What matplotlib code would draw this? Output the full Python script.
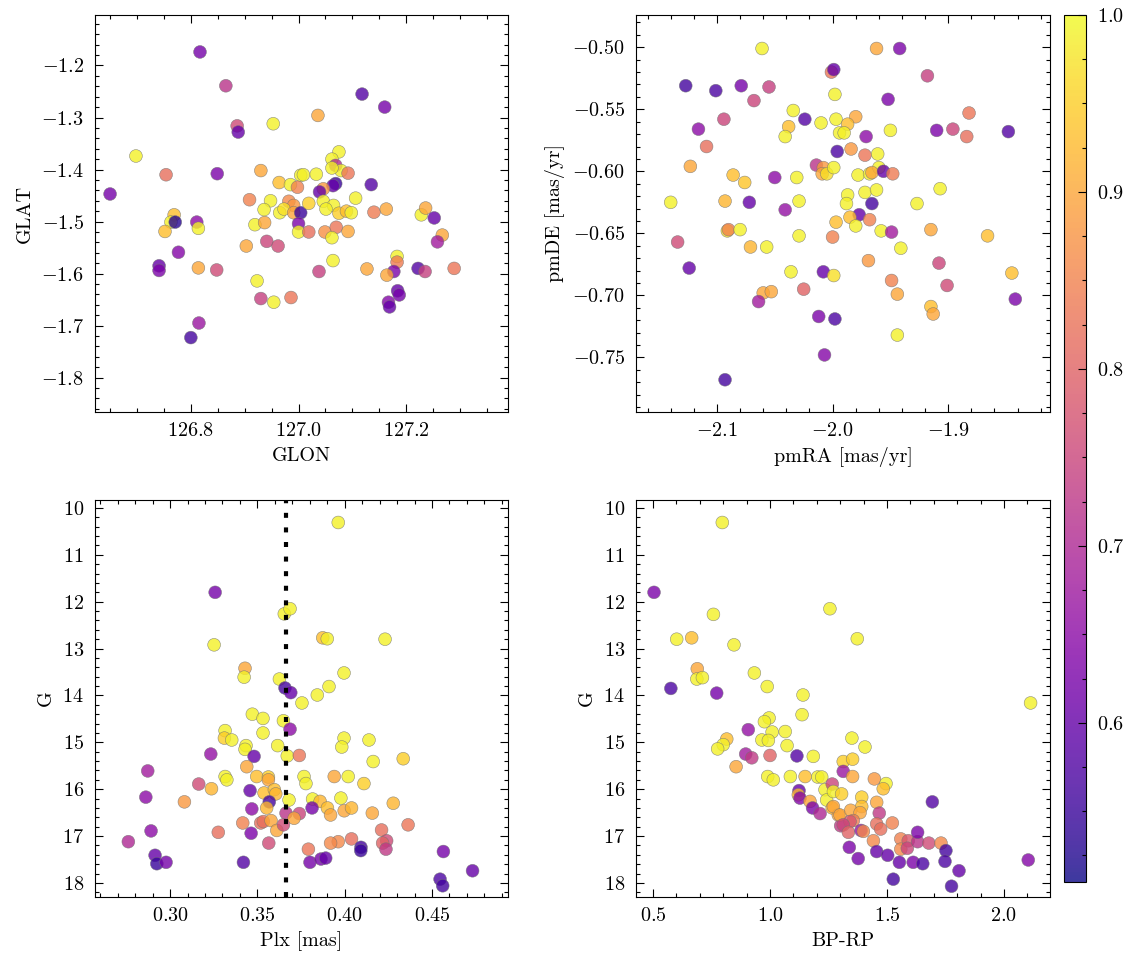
import numpy as np
import matplotlib
matplotlib.use("Agg")
import matplotlib.pyplot as plt
from matplotlib.ticker import FuncFormatter, MultipleLocator

# ---------------- data ----------------
# Panel 1: sky positions
sky_glon = [126.817, 126.865, 126.886, 126.888, 126.953, 126.698, 126.650, 126.754, 126.849, 126.930,
            126.769, 126.763, 126.771, 126.752, 126.811, 126.814, 126.777, 126.741, 126.741, 126.814,
            126.848, 126.815, 126.800, 126.909, 126.948, 126.936, 126.964, 126.985, 127.004, 126.998,
            126.965, 126.982, 126.991, 126.973, 126.991, 127.004, 127.000, 127.000, 126.919, 126.937,
            126.941, 126.962, 126.903, 126.923, 126.930, 126.954, 126.986, 127.118, 127.160, 127.036,
            127.075, 127.062, 127.069, 127.079, 127.062, 127.092, 127.033, 127.009, 127.135, 127.069,
            127.064, 127.046, 127.039, 127.019, 127.046, 127.065, 127.051, 127.075, 127.089, 127.098,
            127.106, 127.019, 127.049, 127.070, 127.062, 127.092, 127.140, 127.163, 127.064, 127.038,
            127.127, 127.183, 127.183, 127.177, 127.164, 127.184, 127.187, 127.167, 127.169, 127.228,
            127.236, 127.252, 127.267, 127.258, 127.222, 127.235, 127.289]
sky_glat = [-1.174, -1.239, -1.316, -1.328, -1.312, -1.374, -1.447, -1.410, -1.408, -1.402,
            -1.487, -1.501, -1.501, -1.519, -1.501, -1.513, -1.559, -1.585, -1.594, -1.589,
            -1.593, -1.695, -1.723, -1.458, -1.460, -1.477, -1.425, -1.429, -1.411, -1.434,
            -1.483, -1.461, -1.469, -1.476, -1.483, -1.483, -1.504, -1.520, -1.506, -1.502,
            -1.538, -1.547, -1.547, -1.614, -1.648, -1.655, -1.646, -1.255, -1.280, -1.296,
            -1.366, -1.380, -1.392, -1.402, -1.397, -1.407, -1.409, -1.410, -1.429, -1.427,
            -1.431, -1.437, -1.443, -1.465, -1.461, -1.469, -1.476, -1.484, -1.480, -1.483,
            -1.455, -1.520, -1.520, -1.511, -1.531, -1.519, -1.482, -1.476, -1.575, -1.596,
            -1.591, -1.567, -1.578, -1.596, -1.603, -1.633, -1.641, -1.655, -1.664, -1.487,
            -1.474, -1.493, -1.526, -1.539, -1.590, -1.596, -1.590]
sky_prob = [0.62, 0.72, 0.76, 0.60, 0.99, 0.99, 0.62, 0.82, 0.63, 0.90,
            0.93, 0.99, 0.53, 0.93, 0.65, 0.99, 0.64, 0.60, 0.63, 0.90,
            0.76, 0.67, 0.56, 0.85, 0.99, 0.99, 0.93, 0.99, 0.99, 0.85,
            0.99, 0.86, 0.88, 0.97, 0.90, 0.55, 0.63, 0.99, 0.99, 0.90,
            0.75, 0.76, 0.90, 0.99, 0.74, 0.99, 0.83, 0.58, 0.62, 0.90,
            0.99, 0.99, 0.70, 0.99, 0.99, 0.83, 0.99, 0.99, 0.58, 0.55,
            0.60, 0.88, 0.60, 0.95, 0.99, 0.99, 0.99, 0.95, 0.93, 0.99,
            0.99, 0.82, 0.87, 0.83, 0.99, 0.90, 0.84, 0.90, 0.99, 0.74,
            0.90, 0.99, 0.84, 0.63, 0.90, 0.60, 0.62, 0.64, 0.60, 0.99,
            0.90, 0.60, 0.90, 0.68, 0.58, 0.74, 0.83]

# Panel 2: proper motions
pm_ra = [-2.061, -2.127, -2.101, -2.079, -2.055, -2.068, -2.001, -1.999, -1.998, -2.034,
         -2.024, -2.010, -1.997, -2.038, -2.041, -2.094, -2.116, -2.109, -1.994, -1.996,
         -2.123, -2.086, -2.076, -2.050, -2.031, -2.014, -2.008, -2.009, -2.005, -1.999,
         -2.140, -2.093, -2.072, -2.029, -2.041, -1.997, -2.091, -2.090, -2.080, -2.134,
         -2.071, -2.057, -2.029, -2.000, -2.124, -2.036, -2.008, -1.999, -2.025, -2.060,
         -2.053, -2.064, -2.012, -1.998, -2.007, -2.093, -1.962, -1.942, -1.918, -1.952,
         -1.882, -1.980, -1.987, -1.990, -1.971, -1.950, -1.910, -1.896, -1.884, -1.848,
         -1.984, -1.972, -1.961, -1.978, -1.968, -1.960, -1.966, -1.956, -1.948, -1.907,
         -1.972, -1.962, -1.987, -1.988, -1.966, -1.927, -1.977, -1.985, -1.980, -1.968,
         -1.958, -1.949, -1.915, -1.866, -1.941, -1.969, -1.908, -1.949, -1.944, -1.901,
         -1.845, -1.842, -1.915, -1.913, -1.944]
pm_de = [-0.501, -0.531, -0.535, -0.531, -0.532, -0.543, -0.520, -0.518, -0.538, -0.551,
         -0.558, -0.561, -0.558, -0.564, -0.572, -0.558, -0.566, -0.580, -0.569, -0.584,
         -0.596, -0.603, -0.609, -0.605, -0.605, -0.595, -0.597, -0.602, -0.602, -0.597,
         -0.625, -0.624, -0.625, -0.624, -0.631, -0.641, -0.648, -0.647, -0.647, -0.657,
         -0.661, -0.661, -0.652, -0.653, -0.678, -0.681, -0.681, -0.684, -0.695, -0.698,
         -0.697, -0.705, -0.717, -0.719, -0.748, -0.768, -0.501, -0.501, -0.523, -0.542,
         -0.553, -0.556, -0.562, -0.569, -0.572, -0.567, -0.567, -0.566, -0.572, -0.568,
         -0.582, -0.587, -0.586, -0.603, -0.602, -0.597, -0.601, -0.600, -0.602, -0.614,
         -0.617, -0.615, -0.619, -0.626, -0.626, -0.626, -0.635, -0.637, -0.644, -0.639,
         -0.648, -0.649, -0.647, -0.652, -0.662, -0.672, -0.674, -0.688, -0.699, -0.692,
         -0.682, -0.703, -0.709, -0.715, -0.732]
pm_prob = [0.99, 0.56, 0.57, 0.62, 0.74, 0.75, 0.83, 0.60, 0.99, 0.99,
           0.58, 0.99, 0.99, 0.93, 0.99, 0.75, 0.65, 0.82, 0.99, 0.57,
           0.90, 0.93, 0.94, 0.65, 0.99, 0.72, 0.88, 0.90, 0.97, 0.99,
           0.99, 0.92, 0.60, 0.99, 0.66, 0.93, 0.97, 0.85, 0.99, 0.76,
           0.92, 0.99, 0.99, 0.85, 0.60, 0.99, 0.60, 0.97, 0.80, 0.90,
           0.90, 0.68, 0.63, 0.57, 0.64, 0.56, 0.90, 0.63, 0.74, 0.63,
           0.83, 0.90, 0.93, 0.99, 0.65, 0.99, 0.63, 0.75, 0.82, 0.58,
           0.88, 0.83, 0.99, 0.99, 0.99, 0.99, 0.90, 0.60, 0.84, 0.99,
           0.99, 0.99, 0.99, 0.99, 0.56, 0.99, 0.60, 0.93, 0.99, 0.85,
           0.99, 0.68, 0.90, 0.93, 0.99, 0.88, 0.75, 0.85, 0.90, 0.76,
           0.93, 0.63, 0.93, 0.90, 0.99]

# Panel 3: parallax vs G
plx = [0.3258, 0.3654, 0.3687, 0.3252, 0.3429, 0.3424, 0.3626, 0.3658, 0.3691, 0.3755,
       0.3471, 0.3532, 0.3649, 0.3687, 0.3532, 0.3315, 0.3311, 0.3353, 0.3435, 0.3429,
       0.3616, 0.3671, 0.3233, 0.3481, 0.3439, 0.2872, 0.3496, 0.3563, 0.3563, 0.3315,
       0.3325, 0.3740, 0.3164, 0.3237, 0.2861, 0.3082, 0.3458, 0.3538, 0.3597, 0.3605,
       0.3568, 0.3681, 0.3553, 0.3468, 0.3664, 0.3740, 0.3710, 0.3416, 0.3519, 0.3534,
       0.3578, 0.3611, 0.3649, 0.3276, 0.3464, 0.2891, 0.2761, 0.3565, 0.2914, 0.2924,
       0.2977, 0.3420, 0.3963, 0.3874, 0.3900, 0.4231, 0.3996, 0.3910, 0.3843, 0.3996,
       0.3983, 0.4139, 0.4163, 0.4335, 0.3767, 0.3778, 0.3940, 0.4020, 0.4110, 0.3816,
       0.3859, 0.3978, 0.3901, 0.3919, 0.3997, 0.4039, 0.4158, 0.4278, 0.3813, 0.4363,
       0.4211, 0.4240, 0.4217, 0.4236, 0.4039, 0.3963, 0.3919, 0.3792, 0.4093, 0.4092,
       0.3801, 0.3864, 0.3891, 0.4565, 0.4732, 0.4546, 0.4561]
plx_g = [11.80, 12.26, 12.15, 12.92, 13.42, 13.61, 13.65, 13.84, 13.94, 14.16,
         14.40, 14.49, 14.54, 14.72, 14.80, 14.75, 14.91, 14.95, 15.07, 15.15,
         15.07, 15.29, 15.25, 15.30, 15.52, 15.61, 15.73, 15.74, 15.80, 15.73,
         15.80, 15.28, 15.89, 15.99, 16.17, 16.27, 16.03, 16.08, 16.01, 16.10,
         16.27, 16.23, 16.40, 16.42, 16.51, 16.52, 16.62, 16.72, 16.72, 16.69,
         16.67, 16.88, 16.76, 16.92, 16.94, 16.89, 17.12, 17.15, 17.41, 17.59,
         17.56, 17.56, 10.31, 12.77, 12.79, 12.80, 13.52, 13.81, 13.99, 14.91,
         15.10, 14.95, 15.41, 15.35, 15.73, 15.88, 15.73, 15.73, 15.88, 16.21,
         16.26, 16.19, 16.40, 16.55, 16.46, 16.40, 16.51, 16.30, 16.40, 16.76,
         16.87, 17.10, 17.15, 17.28, 17.06, 17.12, 17.15, 17.28, 17.24, 17.31,
         17.56, 17.49, 17.47, 17.33, 17.74, 17.92, 18.06]
plx_prob = [0.62, 0.99, 0.99, 0.99, 0.90, 0.99, 0.99, 0.56, 0.60, 0.99,
            0.99, 0.99, 0.99, 0.65, 0.99, 0.99, 0.95, 0.99, 0.99, 0.99,
            0.99, 0.99, 0.66, 0.60, 0.90, 0.68, 0.93, 0.95, 0.90, 0.99,
            0.99, 0.83, 0.76, 0.92, 0.65, 0.88, 0.60, 0.93, 0.93, 0.92,
            0.56, 0.99, 0.92, 0.65, 0.72, 0.75, 0.90, 0.85, 0.82, 0.82,
            0.90, 0.90, 0.76, 0.82, 0.63, 0.65, 0.70, 0.76, 0.60, 0.55,
            0.62, 0.58, 0.99, 0.93, 0.99, 0.99, 0.99, 0.99, 0.99, 0.99,
            0.99, 0.99, 0.99, 0.95, 0.99, 0.99, 0.90, 0.99, 0.95, 0.99,
            0.92, 0.99, 0.93, 0.90, 0.90, 0.92, 0.90, 0.92, 0.62, 0.83,
            0.82, 0.76, 0.80, 0.73, 0.82, 0.86, 0.86, 0.83, 0.56, 0.55,
            0.62, 0.62, 0.60, 0.62, 0.60, 0.57, 0.56]
plx_cut = 0.3664

# Panel 4: colour-magnitude diagram
cmd_bprp = [0.796, 0.504, 1.256, 0.758, 0.601, 0.665, 0.846, 0.689, 0.687, 0.711,
            0.576, 0.772, 0.933, 0.988, 1.141, 1.137, 0.996, 0.976, 1.009, 1.065,
            0.907, 0.965, 0.993, 0.815, 0.800, 0.776, 1.073, 0.896, 0.922, 1.000,
            1.115, 1.185, 0.855, 0.990, 1.014, 1.087, 1.150, 1.204, 1.221, 1.313,
            1.313, 1.124, 1.121, 1.128, 1.235, 1.266, 1.242, 1.271, 1.171, 1.182,
            1.214, 1.266, 1.292, 1.302, 1.373, 2.114, 1.350, 1.406, 1.353, 1.353,
            1.446, 1.496, 1.484, 1.306, 1.392, 1.392, 1.456, 1.271, 1.299, 1.345,
            1.385, 1.467, 1.356, 1.342, 1.313, 1.335, 1.389, 1.399, 1.456, 1.473,
            1.523, 1.442, 1.559, 1.559, 1.591, 1.587, 1.631, 1.631, 1.679, 1.731,
            1.694, 1.339, 1.377, 1.456, 1.503, 1.553, 1.612, 1.653, 1.527, 1.752,
            1.748, 1.808, 1.776, 2.104]
cmd_g = [10.31, 11.80, 12.15, 12.27, 12.80, 12.77, 12.92, 13.43, 13.65, 13.62,
         13.85, 13.95, 13.52, 13.81, 13.99, 14.41, 14.48, 14.56, 14.78, 14.77,
         14.73, 14.95, 14.96, 14.93, 15.05, 15.14, 15.07, 15.25, 15.33, 15.28,
         15.29, 15.30, 15.52, 15.73, 15.80, 15.73, 15.73, 15.74, 15.74, 15.41,
         15.62, 16.03, 16.12, 16.19, 16.01, 15.89, 16.23, 16.05, 16.26, 16.40,
         16.52, 16.40, 16.55, 16.78, 12.79, 14.16, 14.91, 15.10, 15.36, 15.73,
         15.78, 15.88, 15.99, 16.10, 16.17, 16.37, 16.28, 16.37, 16.55, 16.45,
         16.50, 16.51, 16.67, 16.69, 16.76, 16.92, 16.88, 16.90, 16.74, 16.85,
         16.72, 17.10, 17.06, 17.28, 17.10, 17.26, 17.12, 16.92, 17.15, 17.15,
         16.27, 17.24, 17.48, 17.33, 17.41, 17.56, 17.56, 17.59, 17.92, 17.31,
         17.54, 17.74, 18.07, 17.51]
cmd_prob = [0.99, 0.63, 0.99, 0.99, 0.99, 0.93, 0.99, 0.90, 0.99, 0.99,
            0.57, 0.62, 0.99, 0.99, 0.99, 0.99, 0.99, 0.99, 0.99, 0.99,
            0.66, 0.99, 0.99, 0.93, 0.99, 0.99, 0.99, 0.68, 0.73, 0.80,
            0.58, 0.99, 0.90, 0.99, 0.99, 0.99, 0.93, 0.99, 0.99, 0.95,
            0.67, 0.60, 0.92, 0.64, 0.99, 0.75, 0.99, 0.99, 0.90, 0.63,
            0.70, 0.92, 0.90, 0.73, 0.99, 0.99, 0.99, 0.99, 0.95, 0.90,
            0.88, 0.99, 0.93, 0.95, 0.95, 0.93, 0.90, 0.90, 0.90, 0.90,
            0.90, 0.73, 0.84, 0.78, 0.75, 0.80, 0.66, 0.86, 0.82, 0.82,
            0.85, 0.86, 0.85, 0.86, 0.78, 0.75, 0.72, 0.63, 0.76, 0.86,
            0.58, 0.63, 0.62, 0.60, 0.60, 0.60, 0.63, 0.57, 0.56, 0.56,
            0.57, 0.60, 0.56, 0.64]

# ---------------- style ----------------
plt.rcParams.update({
    "font.family": "serif",
    "font.serif": ["cmr10"],
    "mathtext.fontset": "cm",
    "axes.unicode_minus": False,
    "axes.formatter.use_mathtext": True,
    "font.size": 14.5,
    "axes.linewidth": 0.8,
    "axes.labelpad": 5,
    "xtick.direction": "in",
    "ytick.direction": "in",
    "xtick.top": True,
    "ytick.right": True,
    "xtick.minor.visible": True,
    "ytick.minor.visible": True,
    "xtick.major.size": 5.5,
    "ytick.major.size": 5.5,
    "xtick.minor.size": 2.8,
    "ytick.minor.size": 2.8,
    "xtick.major.width": 0.8,
    "ytick.major.width": 0.8,
    "xtick.minor.width": 0.8,
    "ytick.minor.width": 0.8,
    "xtick.major.pad": 7,
    "ytick.major.pad": 8,
})

VMIN, VMAX = 0.51, 1.0
sc_kw = dict(cmap="plasma", vmin=VMIN, vmax=VMAX, s=85, alpha=0.8,
             edgecolors="0.45", linewidths=0.4)


def mfmt(nd):
    return FuncFormatter(lambda v, p: "$%.*f$" % (nd, v))


fig = plt.figure(figsize=(11.33, 9.65), dpi=100)
W, H = 1133, 965


def add_ax(x0, y0, x1, y1):
    return fig.add_axes([x0 / W, 1 - y1 / H, (x1 - x0) / W, (y1 - y0) / H])


ax1 = add_ax(95, 15, 508, 412)
ax2 = add_ax(636, 15, 1050, 412)
ax3 = add_ax(95, 500, 508, 897)
ax4 = add_ax(636, 500, 1050, 897)
cax = add_ax(1064, 15, 1086, 882)

# Panel 1
sc = ax1.scatter(sky_glon, sky_glat, c=sky_prob, **sc_kw)
ax1.set_xlim(126.622, 127.389)
ax1.set_ylim(-1.866, -1.103)
ax1.xaxis.set_major_locator(MultipleLocator(0.2))
ax1.xaxis.set_minor_locator(MultipleLocator(0.05))
ax1.yaxis.set_major_locator(MultipleLocator(0.1))
ax1.yaxis.set_minor_locator(MultipleLocator(0.02))
ax1.xaxis.set_major_formatter(mfmt(1))
ax1.yaxis.set_major_formatter(mfmt(1))
ax1.set_xlabel("GLON")
ax1.set_ylabel("GLAT")

# Panel 2
ax2.scatter(pm_ra, pm_de, c=pm_prob, **sc_kw)
ax2.set_xlim(-2.170, -1.812)
ax2.set_ylim(-0.794, -0.474)
ax2.xaxis.set_major_locator(MultipleLocator(0.1))
ax2.xaxis.set_minor_locator(MultipleLocator(0.02))
ax2.yaxis.set_major_locator(MultipleLocator(0.05))
ax2.yaxis.set_minor_locator(MultipleLocator(0.01))
ax2.xaxis.set_major_formatter(mfmt(1))
ax2.yaxis.set_major_formatter(mfmt(2))
ax2.set_xlabel("pmRA [mas/yr]")
ax2.set_ylabel("pmDE [mas/yr]")

# Panel 3
ax3.scatter(plx, plx_g, c=plx_prob, **sc_kw)
ax3.axvline(plx_cut, color="black", lw=3.0, dashes=(1.2, 2.3))
ax3.set_xlim(0.257, 0.4935)
ax3.set_ylim(18.30, 9.83)
ax3.xaxis.set_major_locator(MultipleLocator(0.05))
ax3.xaxis.set_minor_locator(MultipleLocator(0.01))
ax3.yaxis.set_major_locator(MultipleLocator(1))
ax3.yaxis.set_minor_locator(MultipleLocator(0.2))
ax3.xaxis.set_major_formatter(mfmt(2))
ax3.yaxis.set_major_formatter(mfmt(0))
ax3.set_xlabel("Plx [mas]")
ax3.set_ylabel("G")

# Panel 4
ax4.scatter(cmd_bprp, cmd_g, c=cmd_prob, **sc_kw)
ax4.set_xlim(0.427, 2.197)
ax4.set_ylim(18.30, 9.83)
ax4.xaxis.set_major_locator(MultipleLocator(0.5))
ax4.xaxis.set_minor_locator(MultipleLocator(0.1))
ax4.yaxis.set_major_locator(MultipleLocator(1))
ax4.yaxis.set_minor_locator(MultipleLocator(0.2))
ax4.xaxis.set_major_formatter(mfmt(1))
ax4.yaxis.set_major_formatter(mfmt(0))
ax4.set_xlabel("BP-RP")
ax4.set_ylabel("G")

# Colorbar
cb = fig.colorbar(sc, cax=cax)
cb.outline.set_linewidth(0.8)
cb.set_ticks([0.6, 0.7, 0.8, 0.9, 1.0])
cax.yaxis.set_minor_locator(MultipleLocator(0.025))
cax.yaxis.set_major_formatter(mfmt(1))
cax.tick_params(which="both", direction="in", right=True, left=False)

fig.savefig("out.png", dpi=100)
